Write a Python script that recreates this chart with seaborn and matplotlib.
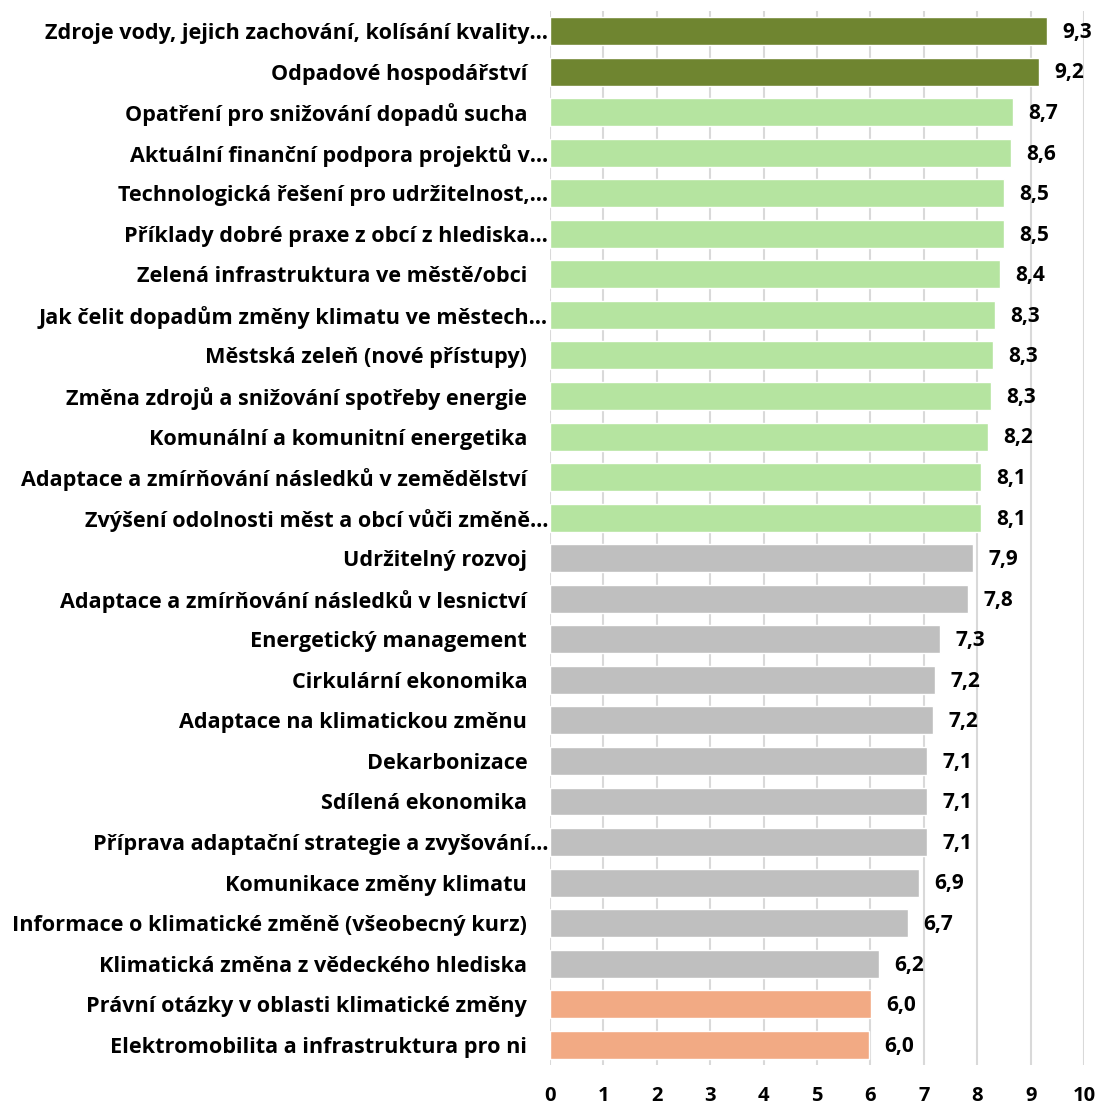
import pandas as pd
import seaborn as sns
import matplotlib.pyplot as plt
from matplotlib.transforms import ScaledTranslation

topics = [
    "Zdroje vody, jejich zachování, kolísání kvality…",
    "Odpadové hospodářství",
    "Opatření pro snižování dopadů sucha",
    "Aktuální finanční podpora projektů v…",
    "Technologická řešení pro udržitelnost,…",
    "Příklady dobré praxe z obcí z hlediska…",
    "Zelená infrastruktura ve městě/obci",
    "Jak čelit dopadům změny klimatu ve městech…",
    "Městská zeleň (nové přístupy)",
    "Změna zdrojů a snižování spotřeby energie",
    "Komunální a komunitní energetika",
    "Adaptace a zmírňování následků v zemědělství",
    "Zvýšení odolnosti měst a obcí vůči změně…",
    "Udržitelný rozvoj",
    "Adaptace a zmírňování následků v lesnictví",
    "Energetický management",
    "Cirkulární ekonomika",
    "Adaptace na klimatickou změnu",
    "Dekarbonizace",
    "Sdílená ekonomika",
    "Příprava adaptační strategie a zvyšování…",
    "Komunikace změny klimatu",
    "Informace o klimatické změně (všeobecný kurz)",
    "Klimatická změna z vědeckého hlediska",
    "Právní otázky v oblasti klimatické změny",
    "Elektromobilita a infrastruktura pro ni",
]
scores = [9.31, 9.16, 8.67, 8.63, 8.50, 8.50, 8.43, 8.33, 8.30, 8.26, 8.20, 8.07, 8.07,
          7.92, 7.83, 7.30, 7.21, 7.17, 7.06, 7.06, 7.06, 6.91, 6.70, 6.16, 6.01, 5.97]
groups = ["top"] * 2 + ["high"] * 11 + ["mid"] * 11 + ["low"] * 2

palette = {"top": "#6f8530", "high": "#b5e4a0", "mid": "#bfbfbf", "low": "#f2aa84"}

df = pd.DataFrame({"topic": topics, "score": scores, "group": groups})

sns.set_style("white")
plt.rcParams["font.family"] = ["Open Sans", "DejaVu Sans"]
plt.rcParams["text.color"] = "black"

fig = plt.figure(figsize=(10.99, 11.06), dpi=100)
ax = fig.add_axes([0.5005, 0.037, 0.4859, 0.9533])

sns.barplot(data=df, x="score", y="topic", hue="group", palette=palette,
            dodge=False, width=0.69, legend=False, ax=ax, saturation=1)

ax.set_xlim(0, 10)
ax.set_ylim(25.5, -0.5)
ax.set_xticks(range(11))
ax.grid(axis="x", color="#d9d9d9", linewidth=1.5)
ax.set_axisbelow(True)
for s in ax.spines.values():
    s.set_visible(False)
ax.set_xlabel("")
ax.set_ylabel("")
ax.tick_params(axis="x", length=0, pad=15, labelsize=14.5, labelcolor="black")
ax.tick_params(axis="y", length=0, pad=16.5, labelsize=15.6, labelcolor="black")
for lab in ax.get_xticklabels():
    lab.set_fontweight("bold")
for lab in ax.get_yticklabels():
    lab.set_fontweight("bold")
    if lab.get_text().endswith("…"):
        lab.set_transform(lab.get_transform() + ScaledTranslation(0.21, 0, fig.dpi_scale_trans))

for i, v in enumerate(scores):
    ax.annotate(f"{v:.1f}".replace(".", ","), (v, i), xytext=(11, -1),
                textcoords="offset points", va="center", ha="left", color="black",
                fontsize=15, fontweight="bold")

fig.savefig("out.png", dpi=100)
